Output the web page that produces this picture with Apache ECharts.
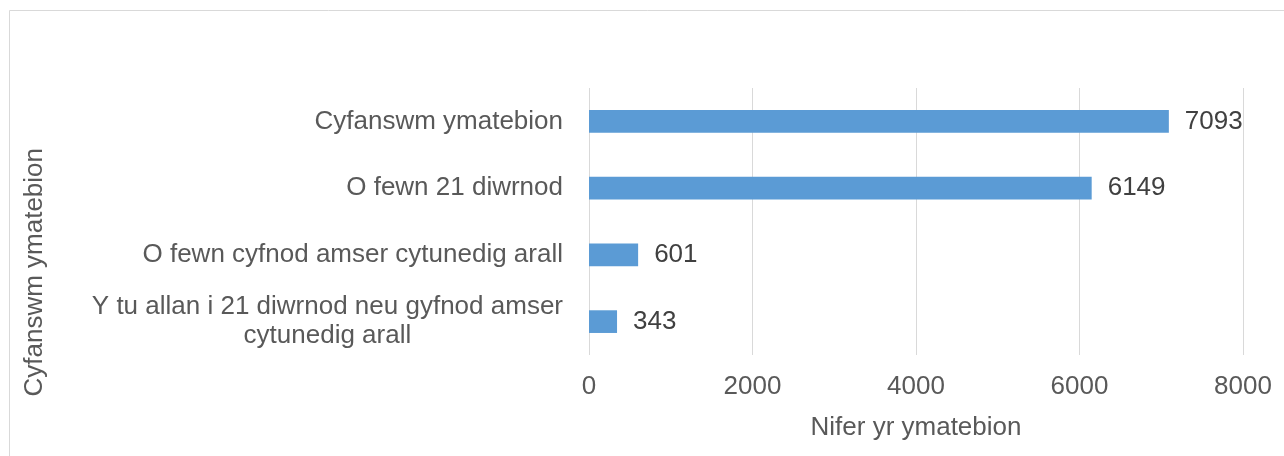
<!DOCTYPE html>
<html>
<head>
<meta charset="utf-8">
<script src="https://cdn.jsdelivr.net/npm/echarts@6/dist/echarts.min.js"></script>
<style>
html,body{margin:0;padding:0;background:#fff;}
#chart{width:1284px;height:456px;}
</style>
</head>
<body>
<div id="chart"></div>
<script>
const categories = [
  "Y tu allan i 21 diwrnod neu gyfnod amser\ncytunedig arall",
  "O fewn cyfnod amser cytunedig arall",
  "O fewn 21 diwrnod",
  "Cyfanswm ymatebion"
];
const values = [343, 601, 6149, 7093];
const xTicks = [0, 2000, 4000, 6000, 8000];
const xAxisTitle = "Nifer yr ymatebion";
const yAxisTitle = "Cyfanswm ymatebion";

const FONT = "Liberation Sans, Arial, sans-serif";
const chart = echarts.init(document.getElementById('chart'), null, {renderer: 'canvas'});
chart.setOption({
  animation: false,
  backgroundColor: '#fff',
  graphic: [
    {type: 'rect', shape: {x: 9.5, y: 10.5, width: 1400, height: 600},
     style: {fill: 'none', stroke: '#d9d9d9', lineWidth: 1}, silent: true, z: -1},
    {type: 'text', left: 22, top: 148,
     rotation: Math.PI / 2,
     style: {text: yAxisTitle, font: '26px ' + FONT, fill: '#595959'}}
  ],
  grid: {left: 589, right: 41, top: 88, bottom: 101, containLabel: false},
  xAxis: {
    type: 'value',
    min: xTicks[0], max: xTicks[xTicks.length - 1], interval: 2000,
    axisLine: {show: false}, axisTick: {show: false},
    splitLine: {show: true, lineStyle: {color: '#d9d9d9', width: 1}},
    axisLabel: {color: '#595959', fontSize: 26, fontFamily: FONT, margin: 19,
      formatter: v => String(v)},
    name: xAxisTitle, nameLocation: 'middle', nameGap: 60,
    nameTextStyle: {color: '#595959', fontSize: 26, fontFamily: FONT}
  },
  yAxis: {
    type: 'category', data: categories,
    axisLine: {show: false}, axisTick: {show: false}, splitLine: {show: false},
    axisLabel: {
      margin: 26, fontSize: 26, fontFamily: FONT, color: '#595959',
      formatter: v => v.split('\n').map(s => '{c|' + s + '}').join('\n'),
      rich: {c: {align: 'center', fontSize: 26, fontFamily: FONT, color: '#595959', lineHeight: 29}}
    }
  },
  series: [{
    type: 'bar', data: values, barWidth: '34%',
    itemStyle: {color: '#5b9bd5'},
    label: {show: true, position: 'right', distance: 16, color: '#404040', fontSize: 26, fontFamily: FONT}
  }]
});
</script>
</body>
</html>
